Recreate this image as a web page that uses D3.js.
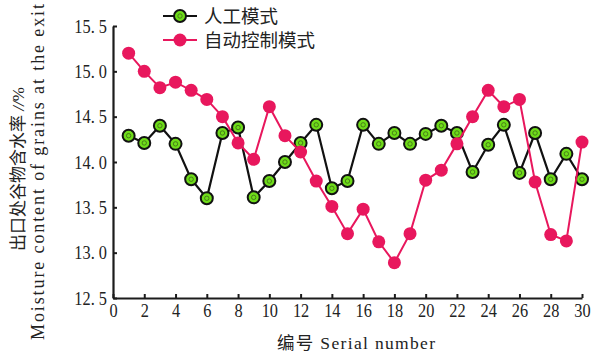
<!DOCTYPE html>
<html>
<head>
<meta charset="utf-8">
<script src="https://cdn.jsdelivr.net/npm/d3@7"></script>
<style>
  html, body { margin: 0; padding: 0; background: #fff; }
  svg { display: block; }
  text { fill: #222; }
</style>
</head>
<body>
<svg id="chart" width="598" height="358"></svg>
<script>
// Serial numbers of the samples
const serial = [1, 2, 3, 4, 5, 6, 7, 8, 9, 10, 11, 12, 13, 14, 15,
                16, 17, 18, 19, 20, 21, 22, 23, 24, 25, 26, 27, 28, 29, 30];

// Moisture content (%) at the exit, manual mode
const manual = [14.29, 14.21, 14.40, 14.20, 13.81, 13.60, 14.32, 14.38, 13.61, 13.79,
                14.00, 14.21, 14.41, 13.71, 13.79, 14.41, 14.20, 14.32, 14.20, 14.31,
                14.40, 14.32, 13.89, 14.19, 14.41, 13.88, 14.32, 13.81, 14.09, 13.81];

// Moisture content (%) at the exit, automatic control mode
const auto = [15.20, 15.00, 14.82, 14.88, 14.79, 14.69, 14.50, 14.21, 14.03, 14.61,
              14.29, 14.11, 13.79, 13.51, 13.21, 13.48, 13.12, 12.89, 13.21, 13.80,
              13.91, 14.20, 14.50, 14.79, 14.61, 14.69, 13.78, 13.20, 13.13, 14.22];

const xTicks = [0, 2, 4, 6, 8, 10, 12, 14, 16, 18, 20, 22, 24, 26, 28, 30];
const yTicks = [12.5, 13.0, 13.5, 14.0, 14.5, 15.0, 15.5];

const seriesNames = ["人工模式", "自动控制模式"];

const svg = d3.select("#chart");
const axisColor = "#1c1c1c";
const green = "#6fdc1a";
const pink = "#e8175d";
const latin = "'Liberation Serif', 'Noto Sans CJK SC', serif";
const cjk = "'Liberation Serif', 'Noto Sans CJK SC', serif";

const x = d3.scaleLinear().domain([0, 30]).range([113, 582]);
const y = d3.scaleLinear().domain([12.5, 15.5]).range([298, 26]);

// Y axis
const gy = svg.append("g")
  .attr("transform", `translate(${x(0)},0)`)
  .call(d3.axisLeft(y).tickValues(yTicks).tickSizeInner(-4).tickSizeOuter(0)
    .tickPadding(6).tickFormat(d => d3.format(".1f")(d).replace(".", ". ")));

// X axis
const gx = svg.append("g")
  .attr("transform", `translate(0,${y(12.5)})`)
  .call(d3.axisBottom(x).tickValues(xTicks).tickSizeInner(-4).tickSizeOuter(0)
    .tickPadding(6).tickFormat(d3.format("d")));

[gx, gy].forEach(g => {
  g.select(".domain").attr("stroke", axisColor).attr("stroke-width", 2.2);
  g.selectAll(".tick line").attr("stroke", axisColor).attr("stroke-width", 2);
  g.selectAll(".tick text")
    .attr("fill", "#222")
    .style("font-family", latin)
    .style("font-size", "19px");
});

// Slightly condensed digits
gy.selectAll(".tick text")
  .attr("x", -6 / 0.86)
  .attr("transform", "scale(0.86,1)");
gx.selectAll(".tick text")
  .attr("x", 0)
  .attr("transform", "scale(0.86,1)");

// Lines and markers
const line = d3.line().x((d, i) => x(serial[i])).y(d => y(d));

// Manual mode
svg.append("path").datum(manual)
  .attr("d", line).attr("fill", "none")
  .attr("stroke", "#111").attr("stroke-width", 2.2);
const gm = svg.append("g").selectAll("g").data(manual).join("g")
  .attr("transform", (d, i) => `translate(${x(serial[i])},${y(d)})`);
gm.append("circle").attr("r", 6).attr("fill", green)
  .attr("stroke", "#111").attr("stroke-width", 2);
gm.append("circle").attr("r", 2.2).attr("fill", "none")
  .attr("stroke", "#3d6a18").attr("stroke-width", 0.8);

// Automatic control mode
svg.append("path").datum(auto)
  .attr("d", line).attr("fill", "none")
  .attr("stroke", pink).attr("stroke-width", 2);
svg.append("g").selectAll("circle").data(auto).join("circle")
  .attr("cx", (d, i) => x(serial[i])).attr("cy", d => y(d))
  .attr("r", 6.5).attr("fill", pink);

// Legend
const legend = svg.append("g");
const legendRows = [
  { name: seriesNames[0], y: 16, kind: "manual" },
  { name: seriesNames[1], y: 40, kind: "auto" }
];
legendRows.forEach(r => {
  const color = r.kind === "manual" ? "#111" : pink;
  legend.append("line").attr("x1", 163).attr("x2", 197)
    .attr("y1", r.y).attr("y2", r.y)
    .attr("stroke", color).attr("stroke-width", 2.2);
  if (r.kind === "manual") {
    legend.append("circle").attr("cx", 180).attr("cy", r.y).attr("r", 6)
      .attr("fill", green).attr("stroke", "#111").attr("stroke-width", 2);
    legend.append("circle").attr("cx", 180).attr("cy", r.y).attr("r", 2.2)
      .attr("fill", "none").attr("stroke", "#3d6a18").attr("stroke-width", 0.8);
  } else {
    legend.append("circle").attr("cx", 180).attr("cy", r.y).attr("r", 6.5)
      .attr("fill", pink);
  }
  legend.append("text").attr("x", 204).attr("y", r.y + 7)
    .style("font-family", cjk).style("font-size", "18.5px")
    .text(r.name);
});

// Axis titles
const t1 = svg.append("text")
  .attr("transform", "translate(24,169) rotate(-90)")
  .attr("text-anchor", "middle")
  .style("font-family", cjk).style("font-size", "17px");
t1.append("tspan").text("出口处谷物含水率 ");
t1.append("tspan").style("font-style", "italic").text("//");
t1.append("tspan").text("%");

svg.append("text")
  .attr("transform", "translate(44,172) rotate(-90)")
  .attr("text-anchor", "middle")
  .attr("textLength", 336).attr("lengthAdjust", "spacing")
  .style("font-family", latin).style("font-size", "18px")
  .text("Moisture content of grains at the exit");

svg.append("text")
  .attr("x", 356).attr("y", 349)
  .attr("text-anchor", "middle")
  .attr("textLength", 158).attr("lengthAdjust", "spacing")
  .style("font-family", cjk).style("font-size", "17.5px")
  .text("编号 Serial number");
</script>
</body>
</html>
